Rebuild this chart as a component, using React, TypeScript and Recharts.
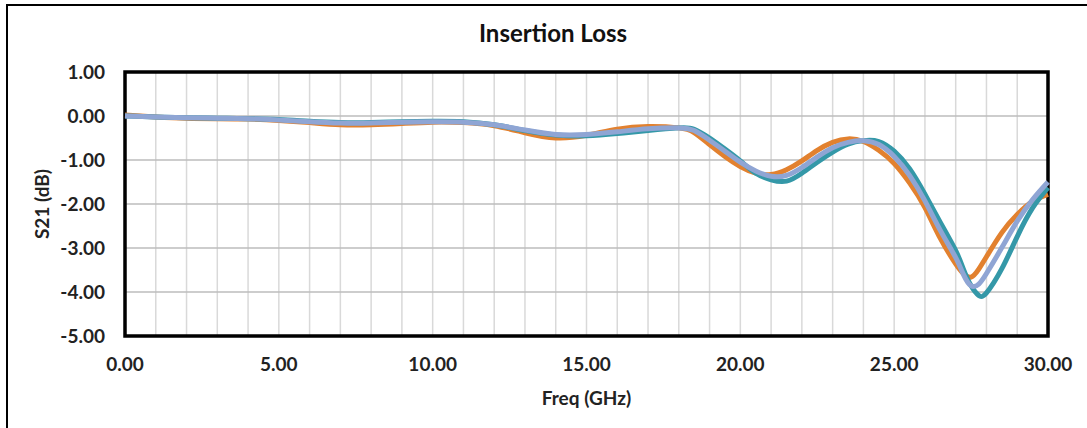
import React from 'react'
import {
  LineChart,
  Line,
  XAxis,
  YAxis,
  CartesianGrid,
  ReferenceArea,
  Label,
} from 'recharts'

// Frequency points (GHz)
const FREQ = [
  0, 1, 2, 3, 4, 5, 6, 7, 8, 9, 10, 11, 12, 13, 14, 15, 16, 17, 18, 18.5, 19, 19.5, 20, 20.5, 21,
  21.5, 22, 22.5, 23, 23.5, 24, 24.5, 25, 25.5, 26, 26.5, 27, 27.25, 27.5, 27.75, 28, 28.5, 29, 29.5,
  30,
]

// S21 (dB) per trace
const ORANGE = [
  0.02, -0.02, -0.05, -0.06, -0.07, -0.1, -0.15, -0.2, -0.2, -0.17, -0.14, -0.15, -0.22, -0.38, -0.5,
  -0.44, -0.3, -0.24, -0.27, -0.38, -0.65, -0.92, -1.15, -1.3, -1.33, -1.22, -1.02, -0.78, -0.6,
  -0.52, -0.58, -0.78, -1.08, -1.52, -2.08, -2.78, -3.36, -3.58, -3.66, -3.48, -3.2, -2.65, -2.24,
  -1.94, -1.78,
]
const TEAL = [
  0, -0.02, -0.04, -0.05, -0.06, -0.08, -0.12, -0.15, -0.15, -0.13, -0.12, -0.13, -0.2, -0.33, -0.43,
  -0.45, -0.4, -0.33, -0.27, -0.3, -0.5, -0.75, -1.02, -1.3, -1.45, -1.48, -1.3, -1.05, -0.82,
  -0.64, -0.56, -0.58, -0.8, -1.2, -1.78, -2.42, -3.06, -3.48, -3.86, -4.08, -4.02, -3.47, -2.74,
  -2.09, -1.63,
]
const LAVENDER = [
  0, -0.02, -0.04, -0.05, -0.06, -0.09, -0.13, -0.16, -0.16, -0.14, -0.13, -0.14, -0.2, -0.32, -0.42,
  -0.42, -0.36, -0.29, -0.27, -0.33, -0.55, -0.8, -1.05, -1.25, -1.37, -1.35, -1.17, -0.93, -0.72,
  -0.6, -0.56, -0.65, -0.92, -1.35, -1.93, -2.6, -3.22, -3.6, -3.86, -3.82, -3.58, -2.99, -2.39,
  -1.9, -1.5,
]

const X_TICKS = [0, 5, 10, 15, 20, 25, 30]
const Y_TICKS = [-5, -4, -3, -2, -1, 0, 1]
const X_GRID = [
  0, 1, 2, 3, 4, 5, 6, 7, 8, 9, 10, 11, 12, 13, 14, 15, 16, 17, 18, 19, 20, 21, 22, 23, 24, 25, 26,
  27, 28, 29, 30,
]

const data = FREQ.map((f, i) => ({ f, a: ORANGE[i], b: TEAL[i], c: LAVENDER[i] }))

const FONT = 'Lato, "Open Sans", sans-serif'
const tickStyle = { fill: '#222', fontSize: 19, fontWeight: 700, fontFamily: FONT }
const labelStyle = { fill: '#222', fontSize: 19, fontWeight: 700, fontFamily: FONT }

export default function App() {
  return (
    <div
      style={{
        position: 'absolute',
        left: 6,
        top: 4,
        width: 1081,
        height: 424,
        boxSizing: 'border-box',
        borderLeft: '2px solid #000',
        borderTop: '2px solid #000',
        background: '#fff',
        overflow: 'hidden',
      }}
    >
      <div
        style={{
          position: 'absolute',
          left: 0,
          top: 15,
          width: 1090,
          textAlign: 'center',
          fontFamily: FONT,
          fontWeight: 700,
          fontSize: 24,
          lineHeight: '24px',
          color: '#111',
        }}
      >
        Insertion Loss
      </div>
      <LineChart
        width={1079}
        height={422}
        data={data}
        margin={{ top: 66, right: 39, left: 37, bottom: 22 }}
      >
        {/* 1 GHz vertical grid comes from a hidden axis */}
        <CartesianGrid horizontal={false} xAxisId="grid" stroke="#d9d9d9" strokeWidth={1.5} />
        <CartesianGrid vertical={false} stroke="#bdbdbd" strokeWidth={1.5} />
        <XAxis
          xAxisId="grid"
          dataKey="f"
          type="number"
          domain={[0, 30]}
          ticks={X_GRID}
          interval={0}
          hide
        />
        <XAxis
          dataKey="f"
          type="number"
          domain={[0, 30]}
          ticks={X_TICKS}
          interval={0}
          tickFormatter={(v) => v.toFixed(2)}
          tick={tickStyle}
          tickLine={false}
          tickSize={0}
          tickMargin={22}
          axisLine={false}
          height={70}
        >
          <Label value="Freq (GHz)" position="center" dy={27} style={labelStyle} />
        </XAxis>
        <YAxis
          type="number"
          domain={[-5, 1]}
          ticks={Y_TICKS}
          interval={0}
          tickFormatter={(v) => v.toFixed(2)}
          tick={tickStyle}
          tickLine={false}
          tickSize={0}
          tickMargin={20}
          axisLine={false}
          width={80}
        >
          <Label value="S21 (dB)" position="center" angle={-90} dx={-43} style={labelStyle} />
        </YAxis>
        <Line
          dataKey="a"
          type="natural"
          stroke="#E2812F"
          strokeWidth={5}
          dot={false}
          isAnimationActive={false}
        />
        <Line
          dataKey="b"
          type="natural"
          stroke="#3498A8"
          strokeWidth={5}
          dot={false}
          isAnimationActive={false}
        />
        <Line
          dataKey="c"
          type="natural"
          stroke="#8FA5D4"
          strokeWidth={5}
          dot={false}
          isAnimationActive={false}
        />
        <ReferenceArea
          x1={0}
          x2={30}
          y1={-5}
          y2={1}
          fill="none"
          stroke="#000"
          strokeWidth={3.5}
          ifOverflow="visible"
        />
      </LineChart>
    </div>
  )
}
